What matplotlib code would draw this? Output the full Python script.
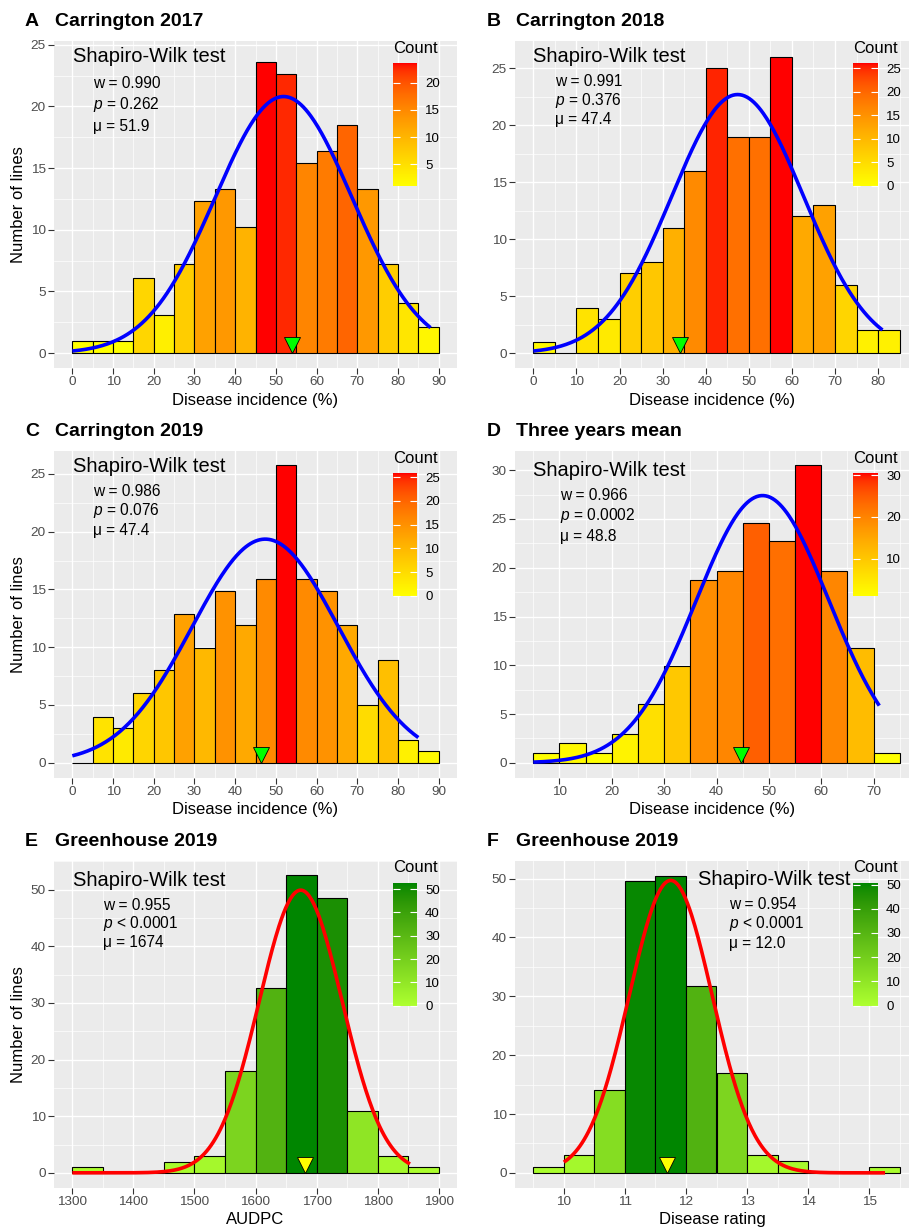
import numpy as np
import matplotlib
matplotlib.use('Agg')
import matplotlib.pyplot as plt
import matplotlib.transforms as mtransforms
from matplotlib.colors import ListedColormap, Normalize, to_rgb
from matplotlib.cm import ScalarMappable

plt.rcParams['font.family'] = ['Liberation Sans', 'DejaVu Sans']
plt.rcParams['mathtext.fontset'] = 'custom'
plt.rcParams['mathtext.rm'] = 'Liberation Sans'
plt.rcParams['mathtext.it'] = 'Liberation Sans:italic'

# ---- data ----
letters = ['A', 'B', 'C', 'D', 'E', 'F']
titles = ['Carrington 2017', 'Carrington 2018', 'Carrington 2019',
          'Three years mean', 'Greenhouse 2019', 'Greenhouse 2019']
xlabels = ['Disease incidence (%)'] * 4 + ['AUDPC', 'Disease rating']

bin_start = [0, 0, 0, 5, 1300, 9.5]
bin_width = [5, 5, 5, 5, 50, 0.5]

counts_a = [1, 1, 1, 6.1, 3.1, 7.2, 12.3, 13.3, 10.2, 23.6, 22.6, 15.4, 16.4, 18.5, 13.3, 7.2, 4.1, 2.1]
counts_b = [1, 0, 4, 3, 7, 8, 11, 16, 25, 19, 19, 26, 12, 13, 6, 2, 2]
counts_c = [0, 4, 3, 6, 8, 12.9, 9.9, 14.9, 11.9, 15.9, 25.8, 15.9, 14.9, 11.9, 5, 8.9, 2, 1]
counts_d = [1, 2, 1, 3, 6, 9.9, 18.7, 19.7, 24.6, 22.7, 30.5, 19.7, 11.8, 1]
counts_e = [1, 0, 0, 2, 3, 18, 32.7, 52.5, 48.5, 11, 3, 1]
counts_f = [1, 3, 14, 49.6, 50.5, 31.7, 16.9, 3, 2, 0, 0, 1]
all_counts = [counts_a, counts_b, counts_c, counts_d, counts_e, counts_f]

w_text = ['0.990', '0.991', '0.986', '0.966', '0.955', '0.954']
p_text = ['= 0.262', '= 0.376', '= 0.076', '= 0.0002', '< 0.0001', '< 0.0001']
mu_text = ['51.9', '47.4', '47.4', '48.8', '1674', '12.0']

# fitted normal curves: mean, sd, peak height, x range
curve_mu = [51.9, 47.4, 47.4, 48.8, 1674, 11.75]
curve_sd = [16.8, 15.3, 18.0, 12.7, 68, 0.68]
curve_peak = [20.8, 22.7, 19.35, 27.4, 49.9, 49.7]
curve_from = [0, 0, 0, 5, 1300, 10]
curve_to = [88, 81, 85, 71.1, 1853, 15.26]

marker_x = [53.9, 34.0, 46.4, 44.7, 1681, 11.69]

xticks = [np.arange(0, 91, 10), np.arange(0, 81, 10), np.arange(0, 91, 10),
          np.arange(10, 71, 10), np.arange(1300, 1901, 100), np.arange(10, 16, 1)]
yticks = [np.arange(0, 26, 5), np.arange(0, 26, 5), np.arange(0, 26, 5),
          np.arange(0, 31, 5), np.arange(0, 51, 10), np.arange(0, 51, 10)]
cbticks = [[5, 10, 15, 20], [0, 5, 10, 15, 20, 25], [0, 5, 10, 15, 20, 25],
           [10, 20, 30], [0, 10, 20, 30, 40, 50], [0, 10, 20, 30, 40, 50]]
xdata_range = [(0, 90), (0, 85), (0, 90), (5, 75), (1300, 1900), (9.5, 15.5)]
ylims = [(-1.2, 25.3), (-1.3, 27.4), (-1.29, 27.0), (-1.525, 32.0), (-2.625, 55.1), (-2.525, 53.05)]

# ---- layout (pixels in the 909x1227 image) ----
W, H = 909, 1227
col_x = [(54, 457), (515, 909)]
row_y = [41, 450.7, 860.7]
ax_h = 327
cbar_x = [(392.7, 416.7), (853.3, 877.7)]
cbar_y = [(63.3, 186), (473.3, 596), (883.3, 1005.7)]
count_y = [48.3, 458.3, 867.7]
title_y = [21.7, 431.7, 841.7]
sw_pos = [(72.7, 56.7), (533.3, 56.7), (72.7, 466.7), (533.3, 470.7), (72.7, 880.7), (698.3, 879.3)]
stat_x = [93, 555, 93, 560, 103.3, 729]
stat_y = [(83.3, 105, 126.7), (81.7, 100, 119.3), (491.7, 510, 530),
          (496, 515.7, 536.7), (905, 923.3, 942.7), (904.3, 923.3, 943.3)]


def rect(x0, y0, x1, y1):
    return [x0 / W, 1 - y1 / H, (x1 - x0) / W, (y1 - y0) / H]


def fx(x):
    return x / W


def fy(y):
    return 1 - y / H


M = np.array([[0.4124, 0.3576, 0.1805], [0.2126, 0.7152, 0.0722], [0.0193, 0.1192, 0.9505]])
WHITE = np.array([0.95047, 1.0, 1.08883])


def to_lab(c):
    c = np.array(to_rgb(c))
    lin = np.where(c <= 0.04045, c / 12.92, ((c + 0.055) / 1.055) ** 2.4)
    xyz = M @ lin / WHITE
    f = np.where(xyz > 0.008856, np.cbrt(xyz), 7.787 * xyz + 16 / 116)
    return np.array([116 * f[1] - 16, 500 * (f[0] - f[1]), 200 * (f[1] - f[2])])


def lab_ramp(c0, c1, n=256):
    # gradient interpolated in Lab space, like ggplot's scale_fill_gradient
    l0, l1 = to_lab(c0), to_lab(c1)
    t = np.linspace(0, 1, n)[:, None]
    lab = l0 + (l1 - l0) * t
    fy_ = (lab[:, 0] + 16) / 116
    f = np.stack([fy_ + lab[:, 1] / 500, fy_, fy_ - lab[:, 2] / 200], 1)
    xyz = np.where(f ** 3 > 0.008856, f ** 3, (f - 16 / 116) / 7.787) * WHITE
    lin = np.clip(xyz @ np.linalg.inv(M).T, 0, 1)
    srgb = np.where(lin <= 0.0031308, 12.92 * lin, 1.055 * lin ** (1 / 2.4) - 0.055)
    return ListedColormap(np.clip(srgb, 0, 1))


warm = lab_ramp('yellow', 'red')
greens = lab_ramp('#ADFF2F', '#008600')

fig = plt.figure(figsize=(W / 100, H / 100), dpi=100)

for i in range(6):
    col = i % 2
    row = i // 2
    x0, x1 = col_x[col]
    y0 = row_y[row]
    ax = fig.add_axes(rect(x0, y0, x1, y0 + ax_h))
    ax.set_facecolor('#EBEBEB')
    for s in ax.spines.values():
        s.set_visible(False)

    counts = np.array(all_counts[i], float)
    lefts = bin_start[i] + bin_width[i] * np.arange(len(counts))
    cmap = warm if i < 4 else greens
    norm = Normalize(counts.min(), counts.max())

    # grid like theme_grey
    lo, hi = xdata_range[i]
    pad = 0.05 * (hi - lo)
    full_w = col_x[0][1] - col_x[0][0]
    xl = lo - pad
    xr = xl + (hi + pad - xl) * (x1 - x0) / full_w
    ax.set_xlim(xl, xr)
    ax.set_ylim(*ylims[i])
    xt = xticks[i]
    yt = yticks[i]
    step_x = xt[1] - xt[0]
    step_y = yt[1] - yt[0]
    for v in np.arange(xt[0] - step_x / 2, xr, step_x):
        ax.axvline(v, color='white', lw=0.5, zorder=0)
    for v in np.arange(yt[0] - step_y / 2, ylims[i][1], step_y):
        ax.axhline(v, color='white', lw=0.5, zorder=0)
    for v in xt:
        ax.axvline(v, color='white', lw=1.0, zorder=0)
    for v in yt:
        ax.axhline(v, color='white', lw=1.0, zorder=0)

    ax.bar(lefts, counts, width=bin_width[i], align='edge', color=cmap(norm(counts)),
           edgecolor='black', linewidth=0.8, zorder=2)

    xs = np.linspace(curve_from[i], curve_to[i], 300)
    ys = curve_peak[i] * np.exp(-(xs - curve_mu[i]) ** 2 / (2 * curve_sd[i] ** 2))
    ax.plot(xs, ys, color='blue' if i < 4 else 'red', lw=2.6, zorder=3,
            solid_capstyle='butt')

    off = mtransforms.ScaledTranslation(0, 8 / 100, fig.dpi_scale_trans)
    ax.plot([marker_x[i]], [0], marker='v', ms=11.5, mfc='#00FF00' if i < 4 else 'yellow',
            mec='black', mew=0.6, ls='none', zorder=4, transform=ax.transData + off)

    ax.set_xticks(xt)
    ax.set_yticks(yt)
    ax.tick_params(length=4, width=0.8, color='#333333', labelcolor='#4D4D4D',
                   labelsize=9.7, pad=2)
    ax.set_xlabel(xlabels[i], fontsize=12, labelpad=3)
    if col == 0:
        ax.set_ylabel('Number of lines', fontsize=12, labelpad=3)

    # titles
    fig.text(fx(25 if col == 0 else 486.7), fy(title_y[row]), letters[i],
             fontsize=14, fontweight='bold', va='center')
    fig.text(fx(55 if col == 0 else 515.7), fy(title_y[row]), titles[i],
             fontsize=14, fontweight='bold', va='center')

    # Shapiro-Wilk annotation
    fig.text(fx(sw_pos[i][0]), fy(sw_pos[i][1]), 'Shapiro-Wilk test', fontsize=14.5, va='center')
    lines = ['w = ' + w_text[i], '$p$ ' + p_text[i], '\u03bc = ' + mu_text[i]]
    for k in range(3):
        fig.text(fx(stat_x[i]), fy(stat_y[i][k]), lines[k], fontsize=11.2, va='center')

    # colour bar legend
    cx0, cx1 = cbar_x[col]
    cy0, cy1 = cbar_y[row]
    cax = fig.add_axes(rect(cx0, cy0, cx1, cy1))
    cb = fig.colorbar(ScalarMappable(norm=norm, cmap=cmap), cax=cax)
    cb.outline.set_visible(False)
    cb.set_ticks(cbticks[i])
    cb.minorticks_off()
    cax.tick_params(direction='in', length=5, width=0.8, color='white', left=True,
                    right=True, labelsize=9.5, labelcolor='black', pad=6)
    fig.text(fx(cx0), fy(count_y[row]), 'Count', fontsize=12, va='center')

fig.savefig('out.png', dpi=100)
